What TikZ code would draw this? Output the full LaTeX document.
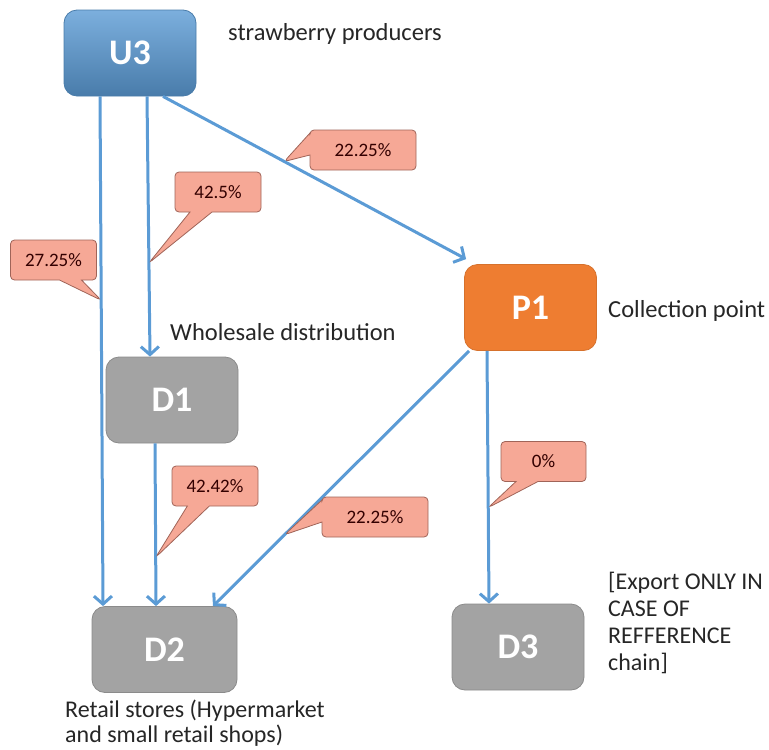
\documentclass[tikz,border=0pt]{standalone}
\usepackage{fontspec}
\setmainfont{Carlito}
\usepackage{xcolor}
\usepackage{tikz}
\usetikzlibrary{arrows.meta,shapes.callouts}

\definecolor{flowblue}{HTML}{5B9BD5}
\definecolor{boxgray}{HTML}{A3A3A3}
\definecolor{boxorange}{HTML}{EE7D31}
\definecolor{notefill}{HTML}{F6A896}
\definecolor{noteline}{HTML}{A06458}
\definecolor{labeltext}{HTML}{262626}

\begin{document}
\begin{tikzpicture}[x=1pt,y=-1pt,
	stage/.style={rounded corners=13pt, minimum width=132pt, minimum height=86pt, text=white, font=\fontsize{36}{36}\selectfont\bfseries},
	graybox/.style={stage, fill=boxgray, draw=boxgray!85!black, line width=0.8pt},
	flow/.style={draw=flowblue, line width=3pt, -{Straight Barb[length=8pt,width=18pt]}},
	share/.style={rectangle callout, rounded corners=4pt, fill=notefill, draw=noteline, line width=0.8pt, minimum width=86pt, minimum height=40pt, callout pointer width=22pt, text=black!80!red, font=\fontsize{19}{19}\selectfont},
	tag/.style={text=labeltext, inner sep=0pt, align=left, font=\fontsize{24.5}{26}\selectfont}]
	\useasboundingbox (0,0) rectangle (769,750);
	\node[stage, top color=flowblue!80!white, bottom color=flowblue!80!black, draw=flowblue!80!black, line width=0.8pt] (U3) at (130,53) {U3};
	\node[stage, fill=boxorange, draw=boxorange!90!black, line width=0.8pt] (P1) at (530.5,307.5) {P1};
	\node[graybox] (D1) at (172,400) {D1};
	\node[graybox, minimum width=145pt] (D2) at (164.5,649.5) {D2};
	\node[graybox] (D3) at (518,647) {D3};
	\node[tag, anchor=base west] (producers) at (228,40) {strawberry producers};
	\node[tag, anchor=base west] (collection) at (608,317) {Collection point};
	\node[tag, anchor=base west] (wholesale) at (170,340) {Wholesale distribution};
	\node[tag, anchor=base west, font=\fontsize{24}{25}\selectfont] (retail) at (65,742) {Retail stores (Hypermarket\\and small retail shops)};
	\node[tag, anchor=base west, font=\fontsize{24}{27}\selectfont] (export) at (608,670) {[Export ONLY IN\\CASE OF\\REFFERENCE\\chain]};
	\draw[flow] ([xshift=-30pt]U3.south) -- coordinate[pos=.40] (u3d2) ([xshift=-61.5pt]D2.north);
	\draw[flow] ([xshift=17pt]U3.south) -- coordinate[pos=.64] (u3d1) ([xshift=-22pt]D1.north);
	\draw[flow] ([xshift=33pt]U3.south) -- coordinate[pos=.40] (u3p1) ([shift={(2pt,5pt)}]P1.north west);
	\draw[flow] ([xshift=-17pt]D1.south) -- coordinate[pos=.70] (d1d2) ([xshift=-8.5pt]D2.north);
	\draw[flow] ([xshift=5pt]P1.south west) -- coordinate[pos=.72] (p1d2) ([xshift=48.5pt]D2.north);
	\draw[flow] ([xshift=-43.5pt]P1.south) -- coordinate[pos=.62] (p1d3) ([xshift=-29pt]D3.north);
	\node[share, callout absolute pointer=(u3d2)] (s1) at (53.5,260) {27.25\%};
	\node[share, callout absolute pointer=(u3d1)] (s2) at (218,192) {42.5\%};
	\node[share, minimum width=106pt, callout absolute pointer=(u3p1)] (s3) at (363,150) {22.25\%};
	\node[share, callout absolute pointer=(d1d2)] (s4) at (215,486) {42.42\%};
	\node[share, minimum width=106pt, callout absolute pointer=(p1d2)] (s5) at (375,517) {22.25\%};
	\node[share, minimum width=85pt, callout absolute pointer=(p1d3)] (s6) at (543.5,461.5) {0\%};
\end{tikzpicture}
\end{document}
